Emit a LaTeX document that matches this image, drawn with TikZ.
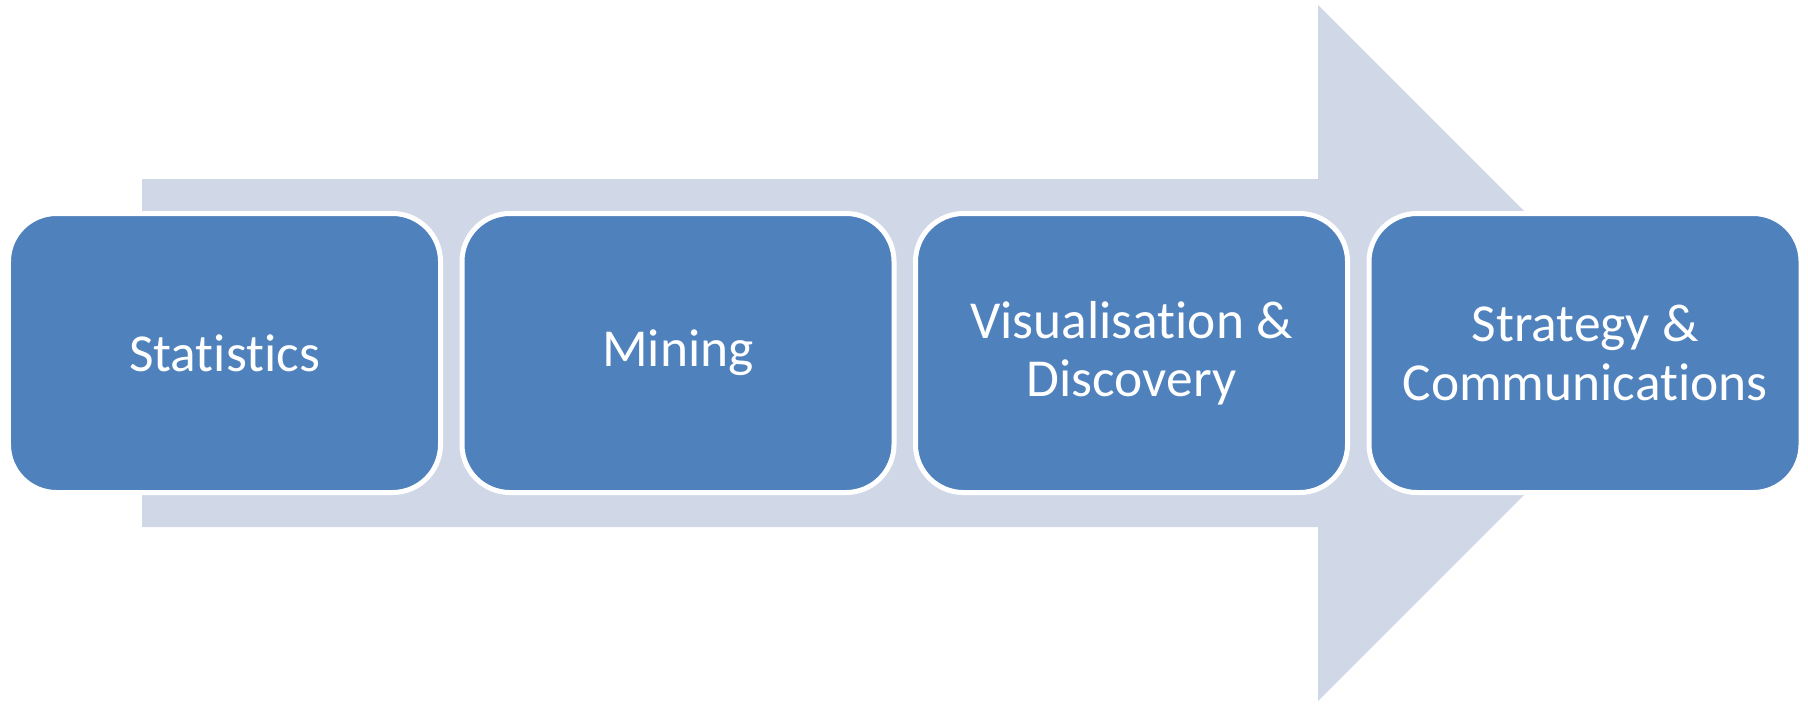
\documentclass[tikz,border=0pt]{standalone}
\usepackage{fontspec}
\setmainfont{Carlito}[RawFeature={-liga;-dlig}]
\usetikzlibrary{positioning}
\definecolor{shaftblue}{HTML}{D0D8E8}
\definecolor{boxblue}{HTML}{4F81BD}

\begin{document}
\begin{tikzpicture}[stage/.style={draw=white,line width=0.05cm,fill=boxblue,rounded corners=0.48cm,minimum width=4.32cm,minimum height=2.79cm,outer sep=0pt,text=white,align=center,font=\fontsize{15.2}{16.6}\selectfont}]
\useasboundingbox (0,0) rectangle (18.08,7.03);
% big arrow behind the stages
\fill[shaftblue] (1.42,1.76)--(1.42,5.24)--(13.18,5.24)--(13.18,6.98)--(16.66,3.5)--(13.18,0.02)--(13.18,1.76)--cycle;
\node[stage] (stats) at (2.245,3.5) {Statistics};
\node[stage,right=0.215cm of stats] (mining) {Mining};
\node[stage,right=0.215cm of mining] (visual) {Visualisation \&\\Discovery};
\node[stage,right=0.215cm of visual] (strategy) {Strategy \&\\Communications};
\end{tikzpicture}
\end{document}
